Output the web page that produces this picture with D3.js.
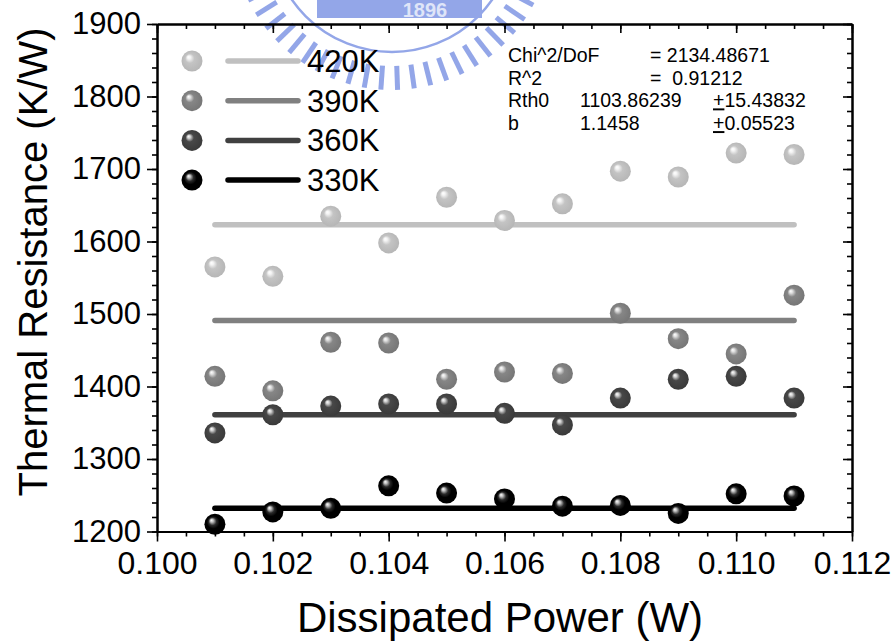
<!DOCTYPE html>
<html>
<head>
<meta charset="utf-8">
<script src="https://cdn.jsdelivr.net/npm/d3@7"></script>
<style>
  body { margin: 0; background: #fff; }
  text { font-family: "Liberation Sans", Arial, sans-serif; }
</style>
</head>
<body>
<div id="chart"></div>
<script>
// data
const powers = [0.101, 0.102, 0.103, 0.104, 0.105, 0.106, 0.107, 0.108, 0.109, 0.110, 0.111];
const r420 = [1565, 1552, 1635, 1598, 1661, 1629, 1652, 1697, 1689, 1722, 1720];
const r390 = [1414, 1394, 1461, 1460, 1410, 1420, 1418, 1501, 1466, 1445, 1526];
const r360 = [1336, 1361, 1373, 1376, 1376, 1363, 1347, 1384, 1410, 1414, 1384];
const r330 = [1210, 1227, 1232, 1263, 1253, 1245, 1235, 1236, 1225, 1252, 1249];
const fitLevels = [1623, 1491, 1361, 1232];
const seriesNames = ["420K", "390K", "360K", "330K"];
const seriesColors = ["#c0c0c0", "#808080", "#404040", "#000000"];
const xTicks = [0.100, 0.102, 0.104, 0.106, 0.108, 0.110, 0.112];
const yTicks = [1200, 1300, 1400, 1500, 1600, 1700, 1800, 1900];
const statRows = [
  ["Chi^2/DoF", "", "= 2134.48671", ""],
  ["R^2", "", "=  0.91212", ""],
  ["Rth0", "1103.86239", "", "15.43832"],
  ["b", "1.1458", "", "0.05523"]
];

const series = seriesNames.map((name, i) => ({
  name,
  color: seriesColors[i],
  fit: fitLevels[i],
  values: [r420, r390, r360, r330][i].map((v, j) => ({ p: powers[j], r: v }))
}));

const W = 893, H = 642;
const svg = d3.select("#chart").append("svg")
  .attr("width", W).attr("height", H);

const x = d3.scaleLinear().domain([0.100, 0.112]).range([157, 852]);
const y = d3.scaleLinear().domain([1200, 1900]).range([531.5, 24]);

// sphere gradients
const defs = svg.append("defs");
const sphereStops = [
  [["0%", "#ffffff"], ["14%", "#f4f4f4"], ["40%", "#c4c4c4"], ["100%", "#b4b4b4"]],
  [["0%", "#ffffff"], ["14%", "#e0e0e0"], ["38%", "#868686"], ["100%", "#747474"]],
  [["0%", "#ffffff"], ["14%", "#cfcfcf"], ["36%", "#484848"], ["100%", "#383838"]],
  [["0%", "#ffffff"], ["14%", "#bdbdbd"], ["34%", "#2a2a2a"], ["55%", "#000000"], ["100%", "#000000"]]
];
series.forEach((s, i) => {
  const g = defs.append("radialGradient")
    .attr("id", "sphere" + i)
    .attr("cx", "50%").attr("cy", "50%").attr("r", "55%")
    .attr("fx", "33%").attr("fy", "30%");
  sphereStops[i].forEach(st => g.append("stop").attr("offset", st[0]).attr("stop-color", st[1]));
});

// faint logo watermark at the top
const logo = svg.append("g").attr("fill", "#93a6e8").attr("stroke", "#93a6e8");
const lc = [392, -70];
d3.range(22, 160, 6).forEach(a => {
  const t = a * Math.PI / 180;
  logo.append("line")
    .attr("x1", lc[0] + 136 * Math.cos(t)).attr("y1", lc[1] + 136 * Math.sin(t))
    .attr("x2", lc[0] + 160 * Math.cos(t)).attr("y2", lc[1] + 160 * Math.sin(t))
    .attr("stroke-width", 5);
});
logo.append("circle").attr("cx", lc[0]).attr("cy", lc[1]).attr("r", 122)
  .attr("fill", "none").attr("stroke-width", 2.5);
logo.append("rect").attr("x", 317).attr("y", -4).attr("width", 165).attr("height", 22).attr("stroke", "none");
logo.append("text").attr("x", 425).attr("y", 17).attr("text-anchor", "middle")
  .attr("fill", "#dfe5f8").attr("stroke", "none")
  .style("font-size", "20px").style("font-weight", "bold").text("1896");

// axes
const axisStyle = g => {
  g.select(".domain").attr("stroke-width", 2);
  g.selectAll(".tick line").attr("stroke-width", 1.6);
};

svg.append("g").attr("transform", `translate(0,${y(1200)})`)
  .call(d3.axisBottom(x).tickValues(x.ticks(24)).tickSize(5).tickSizeOuter(0).tickFormat(""))
  .call(axisStyle);
svg.append("g").attr("transform", `translate(0,${y(1200)})`)
  .call(d3.axisBottom(x).tickValues(xTicks).tickSize(10).tickSizeOuter(0).tickPadding(10)
    .tickFormat(d3.format(".3f")))
  .call(axisStyle)
  .call(g => g.selectAll("text").style("font-size", "32px").attr("fill", "#000"));

svg.append("g").attr("transform", `translate(0,${y(1900)})`)
  .call(d3.axisTop(x).tickValues(x.ticks(24)).tickSize(-5).tickSizeOuter(0).tickFormat(""))
  .call(axisStyle);
svg.append("g").attr("transform", `translate(0,${y(1900)})`)
  .call(d3.axisTop(x).tickValues(xTicks).tickSize(-9).tickSizeOuter(0).tickFormat(""))
  .call(axisStyle);

svg.append("g").attr("transform", `translate(${x(0.100)},0)`)
  .call(d3.axisLeft(y).tickValues(y.ticks(35)).tickSize(5).tickSizeOuter(0).tickFormat(""))
  .call(axisStyle);
svg.append("g").attr("transform", `translate(${x(0.100)},0)`)
  .call(d3.axisLeft(y).tickValues(yTicks).tickSize(10).tickSizeOuter(0).tickPadding(6).tickFormat(d3.format("d")))
  .call(axisStyle)
  .call(g => g.selectAll("text").style("font-size", "31px").attr("fill", "#000"));

svg.append("g").attr("transform", `translate(${x(0.112)},0)`)
  .call(d3.axisRight(y).tickValues(y.ticks(35)).tickSize(-5).tickSizeOuter(0).tickFormat(""))
  .call(axisStyle);
svg.append("g").attr("transform", `translate(${x(0.112)},0)`)
  .call(d3.axisRight(y).tickValues(yTicks).tickSize(-9).tickSizeOuter(0).tickFormat(""))
  .call(axisStyle);

// axis titles
svg.append("text")
  .attr("x", 500).attr("y", 632).attr("text-anchor", "middle")
  .style("font-size", "42px").text("Dissipated Power (W)");
svg.append("text")
  .attr("transform", "translate(47,262) rotate(-90)").attr("text-anchor", "middle")
  .style("font-size", "40px").text("Thermal Resistance (K/W)");

// fit lines
const fitLine = d3.line().x(d => x(d.p)).y(d => y(d.r));
series.forEach(s => {
  svg.append("path")
    .attr("d", fitLine([{ p: powers[0], r: s.fit }, { p: powers[powers.length - 1], r: s.fit }]))
    .attr("fill", "none").attr("stroke", s.color)
    .attr("stroke-width", 5.5).attr("stroke-linecap", "round");
});

// data spheres
series.forEach((s, i) => {
  svg.append("g").selectAll("circle")
    .data(s.values)
    .join("circle")
    .attr("cx", d => x(d.p)).attr("cy", d => y(d.r))
    .attr("r", 10.5).attr("fill", `url(#sphere${i})`);
});

// legend
const legend = svg.append("g");
series.forEach((s, i) => {
  const ly = 61 + i * 39.7;
  legend.append("circle").attr("cx", 192).attr("cy", ly).attr("r", 10.5).attr("fill", `url(#sphere${i})`);
  legend.append("line").attr("x1", 228).attr("x2", 298).attr("y1", ly).attr("y2", ly)
    .attr("stroke", s.color).attr("stroke-width", 5.5).attr("stroke-linecap", "round");
  legend.append("text").attr("x", 307).attr("y", ly + 11).style("font-size", "31px").text(s.name);
});

// fit statistics
const stats = svg.append("g").style("font-size", "19.5px");
const cols = [508, 580, 650, 713];
statRows.forEach((row, i) => {
  const by = 62 + i * 22.7;
  row.forEach((cell, j) => {
    if (!cell) return;
    const t = stats.append("text").attr("x", cols[j]).attr("y", by).attr("xml:space", "preserve");
    if (j === 3) {
      t.append("tspan").style("text-decoration", "underline").text("+");
      t.append("tspan").text(cell);
    } else {
      t.text(cell);
    }
  });
});
</script>
</body>
</html>
